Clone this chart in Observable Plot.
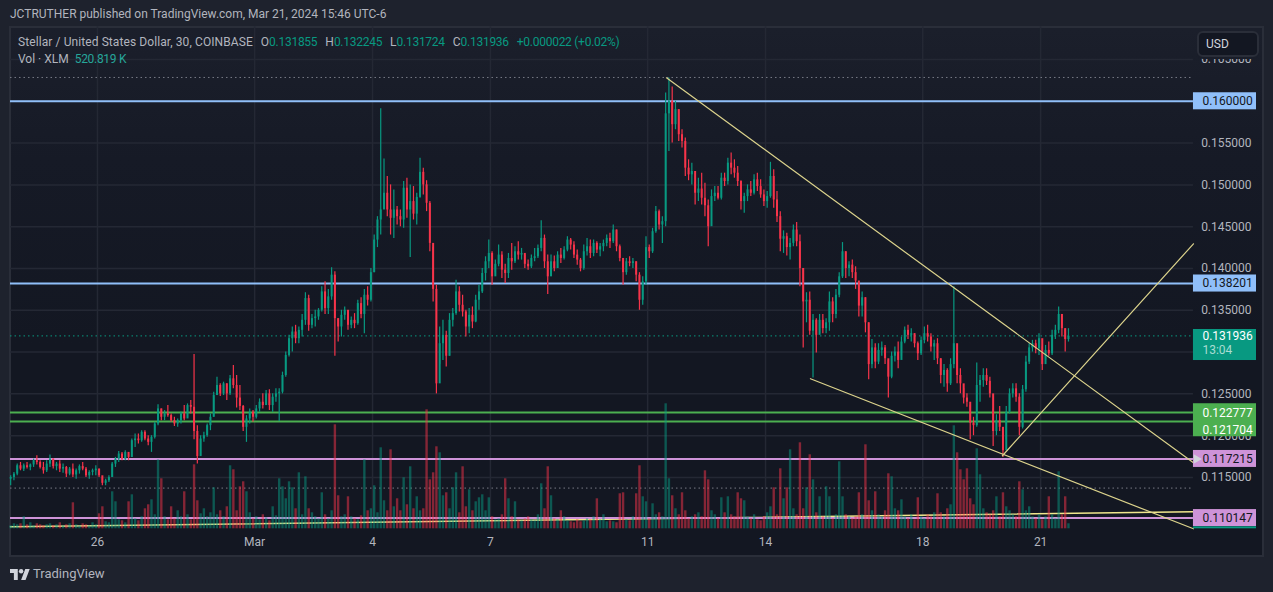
<!DOCTYPE html>
<html><head><meta charset="utf-8">
<script src="https://cdn.jsdelivr.net/npm/d3@7"></script>
<script src="https://cdn.jsdelivr.net/npm/@observablehq/plot@0.6"></script>
<style>
html,body{margin:0;padding:0;width:1273px;height:592px;overflow:hidden;background:#1e222d;font-family:Roboto,sans-serif}
#panel{position:absolute;left:9px;top:26px;width:1255px;height:531px;box-sizing:border-box;border:2px solid #2a2e39;background:linear-gradient(#1b1f2b 0%,#161a26 25%,#131722 60%)}
#chart{position:absolute;left:0;top:0}
.t{position:absolute;white-space:pre;font-size:12px;line-height:14px;color:#b2b5be}
.g{color:#089981;letter-spacing:-0.27px}
#usd{position:absolute;left:1197px;top:31px;width:62px;height:26px;box-sizing:border-box;border:2px solid #2a2e39;border-radius:6px;background:#131722;color:#d1d4dc;font-size:12px;line-height:22px;padding-left:7px;z-index:2;box-shadow:0 2px 0 #1a1e2a}
</style></head><body>
<div id="panel"></div>
<div id="chart"></div>
<div class="t" style="left:10px;top:7px">JCTRUTHER published on TradingView.com, Mar 21, 2024 15:46 UTC-6</div>
<div class="t" style="left:18px;top:35px"><span style="letter-spacing:0.09px">Stellar / United States Dollar, 30, COINBASE</span><span style="margin-left:8px">O</span><span class="g">0.131855</span><span style="margin-left:8px">H</span><span class="g">0.132245</span><span style="margin-left:8px">L</span><span class="g">0.131724</span><span style="margin-left:8px">C</span><span class="g">0.131936</span><span class="g" style="margin-left:8px">+0.000022 (+0.02%)</span></div>
<div class="t" style="left:18px;top:52px">Vol · XLM<span style="margin-left:6px;color:#26a69a;letter-spacing:-0.3px">520.819 K</span></div>
<div id="usd">USD</div>
<svg style="position:absolute;left:10px;top:567px" width="20" height="14" viewBox="0 2 36 22"><path fill="#d1d4dc" d="M14 24H7V11H0V4h14v20zM28 24h-8l7.5-20h8L28 24z"/><circle fill="#d1d4dc" cx="20" cy="8" r="4"/></svg>
<div class="t" style="left:33px;top:567px;font-size:13px">TradingView</div>
<script>
// Bars: one entry every 2 hours, in 0.0001 USD
const highs = [
1152,1156,1166,1168,1166,1168,1166,1172,1176,1170,
1168,1170,1177,1172,1168,1170,1166,1163,1162,1166,
1160,1165,1168,1162,1158,1160,1164,1160,1150,1148,
1152,1168,1174,1181,1180,1182,1178,1196,1202,1202,
1206,1206,1200,1200,1216,1237,1232,1230,1236,1226,
1222,1220,1228,1236,1238,1242,1297,1212,1200,1204,
1214,1226,1252,1270,1262,1264,1262,1272,1284,1272,
1260,1236,1224,1232,1230,1236,1244,1250,1254,1255,
1250,1256,1256,1276,1300,1320,1330,1332,1330,1345,
1371,1368,1345,1350,1352,1378,1384,1375,1401,1396,
1340,1350,1354,1345,1342,1346,1362,1365,1375,1378,
1400,1440,1462,1591,1531,1510,1500,1494,1474,1470,
1504,1508,1500,1498,1490,1532,1520,1505,1480,1425,
1380,1330,1338,1325,1346,1352,1386,1378,1368,1350,
1352,1354,1368,1380,1400,1414,1434,1420,1410,1428,
1420,1405,1418,1430,1426,1432,1424,1416,1410,1416,
1424,1428,1457,1440,1416,1416,1415,1420,1424,1426,
1438,1436,1432,1422,1412,1428,1436,1434,1434,1432,
1430,1434,1440,1442,1452,1446,1428,1412,1412,1414,
1412,1408,1395,1390,1438,1428,1448,1474,1470,1462,
1610,1628,1617,1600,1590,1566,1556,1530,1526,1503,
1508,1514,1502,1482,1494,1498,1498,1514,1514,1532,
1538,1530,1522,1505,1490,1500,1504,1512,1514,1506,
1494,1492,1527,1518,1492,1468,1445,1442,1436,1452,
1455,1440,1400,1371,1372,1345,1340,1345,1345,1340,
1372,1365,1375,1395,1431,1420,1408,1410,1402,1380,
1372,1365,1335,1315,1310,1310,1312,1308,1290,1300,
1306,1312,1318,1330,1332,1328,1322,1312,1318,1330,
1332,1322,1314,1316,1292,1285,1280,1292,1378,1300,
1280,1256,1250,1236,1222,1287,1272,1280,1280,1270,
1232,1225,1235,1205,1235,1256,1262,1262,1250,1260,
1295,1310,1314,1314,1322,1306,1308,1312,1326,1332,
1354,1345,1328,1328];
const lows = [
1140,1146,1152,1158,1157,1160,1158,1162,1165,1160,
1154,1156,1162,1160,1158,1156,1155,1150,1152,1150,
1148,1154,1158,1150,1148,1152,1152,1150,1140,1140,
1144,1150,1162,1168,1170,1170,1170,1174,1186,1190,
1192,1194,1188,1180,1196,1212,1218,1218,1222,1216,
1211,1210,1214,1218,1222,1226,1195,1166,1176,1192,
1198,1206,1222,1248,1247,1248,1242,1248,1256,1233,
1230,1205,1192,1214,1216,1220,1228,1232,1236,1230,
1228,1240,1217,1250,1270,1294,1300,1310,1310,1318,
1332,1325,1328,1330,1338,1348,1345,1345,1362,1295,
1312,1318,1338,1326,1328,1328,1332,1340,1322,1355,
1360,1395,1425,1440,1474,1462,1440,1436,1452,1450,
1448,1460,1413,1458,1452,1484,1488,1468,1420,1360,
1250,1285,1290,1282,1295,1330,1344,1348,1342,1318,
1322,1328,1335,1350,1370,1385,1400,1380,1395,1402,
1388,1382,1388,1398,1406,1410,1410,1400,1398,1400,
1408,1412,1420,1400,1369,1395,1396,1400,1406,1410,
1420,1422,1412,1404,1396,1398,1415,1412,1414,1418,
1414,1420,1426,1424,1430,1420,1408,1380,1392,1402,
1400,1384,1350,1356,1380,1412,1418,1442,1446,1430,
1450,1540,1550,1566,1552,1544,1510,1505,1500,1476,
1480,1476,1462,1426,1474,1480,1482,1482,1498,1500,
1512,1508,1498,1470,1466,1480,1486,1488,1492,1484,
1474,1472,1484,1472,1455,1420,1418,1415,1410,1426,
1426,1378,1305,1335,1320,1269,1299,1322,1322,1322,
1325,1335,1340,1365,1388,1388,1390,1388,1375,1342,
1342,1323,1267,1280,1280,1285,1295,1285,1245,1268,
1288,1280,1295,1310,1315,1312,1305,1290,1296,1310,
1312,1300,1290,1285,1262,1258,1252,1260,1280,1262,
1250,1238,1234,1195,1200,1210,1240,1258,1260,1245,
1187,1200,1205,1174,1195,1226,1245,1240,1200,1208,
1252,1285,1300,1298,1296,1278,1290,1295,1296,1315,
1322,1318,1300,1312];
const closes = [
1150,1154,1164,1160,1164,1162,1165,1170,1168,1162,
1158,1166,1172,1163,1166,1160,1162,1154,1160,1153,
1158,1163,1160,1152,1156,1158,1160,1152,1143,1146,
1150,1166,1172,1178,1172,1180,1174,1194,1196,1194,
1204,1196,1192,1198,1214,1232,1222,1226,1224,1218,
1214,1218,1226,1220,1236,1234,1205,1175,1196,1200,
1212,1222,1248,1260,1250,1262,1250,1268,1260,1245,
1235,1210,1220,1228,1222,1232,1240,1236,1250,1236,
1246,1250,1252,1272,1296,1316,1324,1316,1326,1338,
1364,1332,1340,1342,1350,1372,1352,1366,1392,1340,
1330,1344,1350,1332,1338,1334,1358,1345,1368,1362,
1395,1434,1458,1470,1490,1470,1460,1470,1462,1458,
1496,1470,1480,1465,1485,1515,1500,1478,1430,1375,
1262,1310,1320,1295,1338,1346,1372,1356,1348,1330,
1344,1336,1362,1372,1394,1408,1418,1390,1405,1416,
1398,1394,1412,1408,1420,1416,1418,1405,1402,1412,
1414,1424,1436,1408,1390,1408,1400,1416,1412,1422,
1434,1428,1416,1410,1400,1420,1426,1418,1430,1422,
1426,1430,1436,1432,1446,1426,1412,1395,1408,1406,
1408,1392,1362,1384,1425,1420,1444,1468,1452,1456,
1585,1600,1572,1590,1560,1552,1520,1512,1516,1490,
1495,1484,1475,1450,1486,1490,1484,1508,1504,1526,
1520,1514,1504,1480,1486,1494,1490,1506,1498,1488,
1480,1486,1510,1482,1462,1435,1438,1425,1430,1446,
1432,1400,1360,1362,1325,1338,1320,1338,1328,1335,
1360,1345,1368,1390,1420,1400,1404,1395,1385,1355,
1365,1335,1285,1305,1288,1302,1305,1292,1270,1295,
1300,1290,1312,1326,1320,1322,1310,1298,1314,1322,
1318,1306,1310,1292,1272,1278,1262,1285,1310,1272,
1262,1245,1240,1215,1212,1260,1266,1272,1265,1250,
1205,1218,1210,1182,1228,1250,1256,1246,1210,1255,
1288,1305,1310,1304,1316,1285,1302,1298,1320,1326,
1345,1328,1315,1319];
// Volume per bar, in 100K XLM
const volumes = [
3,5,4,5,12,4,6,3,5,4,
3,4,5,3,4,6,3,4,5,26,
4,3,5,4,3,6,4,15,22,7,
6,37,27,9,8,6,27,34,10,8,
12,20,24,29,14,69,50,12,9,22,
10,18,12,37,14,9,64,28,15,20,
12,16,41,14,18,12,22,63,59,18,
42,47,37,16,10,12,9,14,11,8,
22,13,50,42,30,47,41,20,56,14,
52,20,16,12,10,36,14,10,18,104,
33,12,14,32,12,10,9,13,69,18,
20,43,16,81,28,18,79,22,30,18,
51,24,62,20,32,18,20,119,49,56,
82,76,33,36,20,41,56,16,62,22,
39,18,27,31,34,18,31,12,9,10,
14,50,30,12,27,9,8,10,12,9,
8,14,45,20,62,33,10,9,18,12,
8,7,6,9,7,8,10,9,12,30,
9,14,7,8,7,6,35,36,9,8,
12,35,63,32,27,10,25,14,16,12,
125,50,33,20,14,36,18,10,12,14,
16,12,58,49,18,14,10,31,16,32,
14,12,36,30,28,12,10,14,9,8,
12,16,22,41,14,60,30,41,79,20,
14,86,20,41,74,49,16,32,12,42,
32,10,14,67,32,14,12,10,12,36,
14,84,28,18,37,14,12,18,55,52,
20,18,29,12,10,14,9,31,12,10,
14,12,16,35,16,12,20,24,103,76,
59,49,60,30,24,80,54,20,16,14,
18,32,12,36,22,18,14,12,47,39,
18,22,12,10,14,9,12,32,14,10,
57,14,32,5];

const UP = "#089981", DOWN = "#f7344a";
const firstBar = Date.UTC(2024, 1, 23, 19);
const domainX = [new Date(Date.UTC(2024, 1, 23, 18, 54)), new Date(Date.UTC(2024, 2, 26, 11, 50))];
const domainY = [0.10886, 0.16891];
const pricePerPixel = 1 / 8360;
const axisStart = new Date(Date.UTC(2024, 2, 24, 21, 20));   // start of the price-axis strip
const axisEnd = domainX[1];
const labelX = new Date(Date.UTC(2024, 2, 25, 2, 48));       // left edge of axis label text

const dateTicks = [[1,26],[2,1],[2,4],[2,7],[2,11],[2,14],[2,18],[2,21]].map(([m,d]) => new Date(Date.UTC(2024,m,d)));
const dateLabels = ["26","Mar","4","7","11","14","18","21"];
const priceTicks = [0.115,0.12,0.125,0.13,0.135,0.14,0.145,0.15,0.155,0.16,0.165];
const priceTickLabels = [0.115,0.12,0.125,0.135,0.14,0.145,0.15,0.155,0.165];

const levels = [
  {p:0.16, c:"#90bff9"}, {p:0.138201, c:"#90bff9"},
  {p:0.122777, c:"#4caf50"}, {p:0.121704, c:"#4caf50"},
  {p:0.117215, c:"#ce93d8"}, {p:0.110147, c:"#ce93d8"}
];
const labelBoxes = [
  {y1:0.15898, y2:0.16102, c:"#90bff9"},
  {y1:0.13718, y2:0.13922, c:"#90bff9"},
  {y1:0.11987, y2:0.12382, c:"#4caf50"},
  {y1:0.11620, y2:0.11823, c:"#ce93d8"},
  {y1:0.10913, y2:0.11116, c:"#ce93d8"},
  {y1:0.10886, y2:0.10910, c:"#089981"},
  {y1:0.12899, y2:0.13270, c:"#089981"}
];
const labelTexts = [
  {p:0.16, t:"0.160000", c:"#131722"},
  {p:0.138201, t:"0.138201", c:"#131722"},
  {p:0.12274, t:"0.122777", c:"#ffffff", w:600},
  {p:0.12071, t:"0.121704", c:"#ffffff", w:600},
  {p:0.117215, t:"0.117215", c:"#131722"},
  {p:0.110147, t:"0.110147", c:"#131722"},
  {p:0.13188, t:"0.131936", c:"#ffffff", w:600},
  {p:0.13025, t:"13:04", c:"#a9dcd2"}
];
const trendLines = [
  {id:"a", t:[Date.UTC(2024,2,11,11,30), +axisStart], p:[0.16281,0.11676]},
  {id:"b", t:[Date.UTC(2024,2,15,3,25), +axisStart], p:[0.12681,0.10886]},
  {id:"c", t:[Date.UTC(2024,2,20,0,40), +axisStart], p:[0.11760,0.14295]}
];
const flatTrend = {t:[+domainX[0], +axisStart], p:[0.10910,0.11090]};
const highLine = 0.16285, lowLine = 0.11373, lastPrice = 0.131936;

const bars = closes.map((c,i) => {
  const o = i ? closes[i-1] : c - 2;
  return {t:new Date(firstBar + i*2*3600e3), o:o/1e4, c:c/1e4, h:highs[i]/1e4, l:lows[i]/1e4, v:volumes[i], col:c>=o?UP:DOWN};
});
const trendPts = trendLines.flatMap(l => l.t.map((t,i) => ({id:l.id, t:new Date(t), p:l.p[i]})));
const flatPts = flatTrend.t.map((t,i) => ({t:new Date(t), p:flatTrend.p[i]}));
const TREND = "#dcd38c";

const chart = Plot.plot({
  width:1273, height:592,
  marginLeft:10, marginRight:17, marginTop:26.3, marginBottom:63.7,
  style:{background:"transparent", fontFamily:"Roboto, sans-serif", fontSize:"12px"},
  x:{type:"utc", domain:domainX},
  y:{domain:domainY},
  color:{type:"identity"},
  marks:[
    Plot.ruleY(priceTicks,{x1:()=>domainX[0], x2:()=>axisStart, y:d=>d, stroke:"#242834", strokeWidth:1.5}),
    Plot.ruleX(dateTicks,{x:d=>d, stroke:"#242834", strokeWidth:1.5}),
    Plot.line(flatPts,{x:"t", y:"p", stroke:"#f0e68c", strokeWidth:1.5}),
    Plot.ruleY([highLine,lowLine],{x1:()=>domainX[0], x2:()=>axisStart, y:d=>d, stroke:"#787b86", strokeDasharray:"1.5,3", strokeWidth:1}),
    Plot.ruleY([lastPrice],{x1:()=>domainX[0], x2:()=>axisStart, y:d=>d, stroke:"#089981", strokeDasharray:"1.5,3", strokeWidth:1}),
    Plot.ruleY(levels,{x1:()=>domainX[0], x2:()=>axisStart, y:"p", stroke:"c", strokeWidth:2}),
    Plot.ruleX(bars,{x:"t", y1:()=>domainY[0], y2:d=>domainY[0]+d.v*pricePerPixel, stroke:"col", strokeWidth:2.4, strokeOpacity:0.5}),
    Plot.ruleX(bars,{x:"t", y1:"l", y2:"h", stroke:"col", strokeWidth:1.2}),
    Plot.ruleX(bars,{x:"t", y1:"o", y2:"c", stroke:"col", strokeWidth:2}),
    Plot.line(trendPts,{x:"t", y:"p", z:"id", stroke:TREND, strokeWidth:1.2}),
    Plot.axisX(dateTicks,{anchor:"bottom", tickSize:0, tickPadding:9, fontSize:12, fill:"#b2b5be", label:null,
      tickFormat:d=>dateLabels[dateTicks.findIndex(t=>+t===+d)]}),
    Plot.axisY(priceTickLabels,{anchor:"right", tickSize:0, tickPadding:0, textAnchor:"end", dx:-5, fontSize:12, fill:"#b2b5be", label:null,
      tickFormat:d=>d.toFixed(6)}),
    Plot.rect(labelBoxes,{x1:()=>axisStart, x2:()=>axisEnd, y1:"y1", y2:"y2", fill:"c"}),
    Plot.dot([0.117215],{x:()=>new Date(+axisStart+3*864e5/39.3), y:d=>d, symbol:"triangle", r:3.5, rotate:90, fill:"#d1d4dc"}),
    Plot.text(labelTexts,{x:()=>labelX, y:"p", text:"t", fill:"c", textAnchor:"start", fontSize:12, fontWeight:d=>d.w||400})
  ]
});
document.getElementById("chart").appendChild(chart);
</script>
</body></html>
